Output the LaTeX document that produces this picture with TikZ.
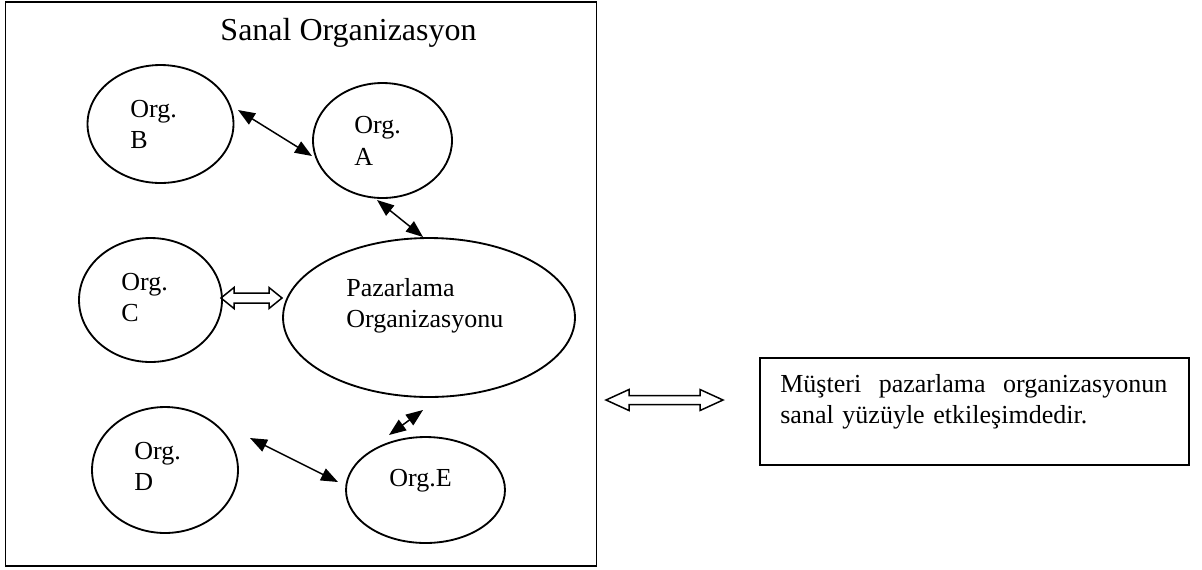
\documentclass[tikz,border=0pt]{standalone}
\usepackage{fontspec}
\setmainfont{Liberation Serif}
\usetikzlibrary{shapes.geometric,arrows.meta}
\begin{document}
\begin{tikzpicture}[x=0.02cm,y=-0.02cm]
        \tikzstyle{org_style} = [ellipse,draw=black,line width=1.05pt,inner sep=0pt]
        \tikzstyle{label_style} = [anchor=west,inner sep=0pt,align=left,font=\fontsize{14.8}{17.8}\selectfont]
        \tikzstyle{link_style} = [>={Triangle[length=0.34cm,width=0.26cm]},<->,line width=0.85pt]
        \useasboundingbox (0,0) rectangle (1202,569);
        % frame and title
        \draw[line width=1.05pt] (5.5,2) rectangle (596.5,566);
        \node[anchor=base,inner sep=0pt,font=\fontsize{18.2}{21.8}\selectfont] (title) at (348.5,40) {Sanal Organizasyon};
        % organisations
        \node[org_style,minimum width=2.92cm,minimum height=2.36cm] (orgB) at (160.5,124) {};
        \node[org_style,minimum width=2.78cm,minimum height=2.30cm] (orgA) at (382.5,140.5) {};
        \node[org_style,minimum width=2.86cm,minimum height=2.48cm] (orgC) at (150.5,300) {};
        \node[org_style,minimum width=5.84cm,minimum height=3.18cm] (pazar) at (429,317.5) {};
        \node[org_style,minimum width=2.92cm,minimum height=2.52cm] (orgD) at (165,470) {};
        \node[org_style,minimum width=3.18cm,minimum height=2.12cm] (orgE) at (425.5,490) {};
        \node[label_style] (orgB_text) at (130,124.5) {Org.\\B};
        \node[label_style] (orgA_text) at (354,141) {Org.\\A};
        \node[label_style] (orgC_text) at (121,297.5) {Org.\\C};
        \node[label_style] (pazar_text) at (346,306) {Pazarlama\\Organizasyonu};
        \node[label_style] (orgD_text) at (134,466.5) {Org.\\D};
        \node[label_style] (orgE_text) at (389,481) {Org.E};
        % arrow ends
        \coordinate (BA_start) at (238,110);
        \coordinate (BA_end) at (312,156);
        \coordinate (AP_start) at (377,200);
        \coordinate (AP_end) at (423,237);
        \coordinate (PE_start) at (423,410);
        \coordinate (PE_end) at (389,435);
        \coordinate (DE_start) at (250,438);
        \coordinate (DE_end) at (338,482);
        \draw[link_style] (BA_start) -- (BA_end);
        \draw[link_style] (AP_start) -- (AP_end);
        \draw[link_style] (PE_start) -- (PE_end);
        \draw[link_style] (DE_start) -- (DE_end);
        % hollow arrows
        \draw[line width=0.85pt] (221,298) -- (234,287.5) -- (234,293) -- (269,293) -- (269,287.5) -- (282,298)
          -- (269,308.5) -- (269,303) -- (234,303) -- (234,308.5) -- cycle;
        \draw[line width=0.85pt] (606,400) -- (629,389.5) -- (629,395.5) -- (700,395.5) -- (700,389.5) -- (723,400)
          -- (700,410.5) -- (700,404.5) -- (629,404.5) -- (629,410.5) -- cycle;
        % customer box
        \node[draw,line width=1.05pt,anchor=north west,inner sep=0pt,minimum width=8.58cm,minimum height=2.14cm] (msg_box) at (759,357) {};
        \node[label_style,text width=7.74cm] (msg_text) at (780,401.5) {Müşteri\hfill pazarlama\hfill organizasyonun\\sanal yüzüyle etkileşimdedir.};
      \end{tikzpicture}
\end{document}
